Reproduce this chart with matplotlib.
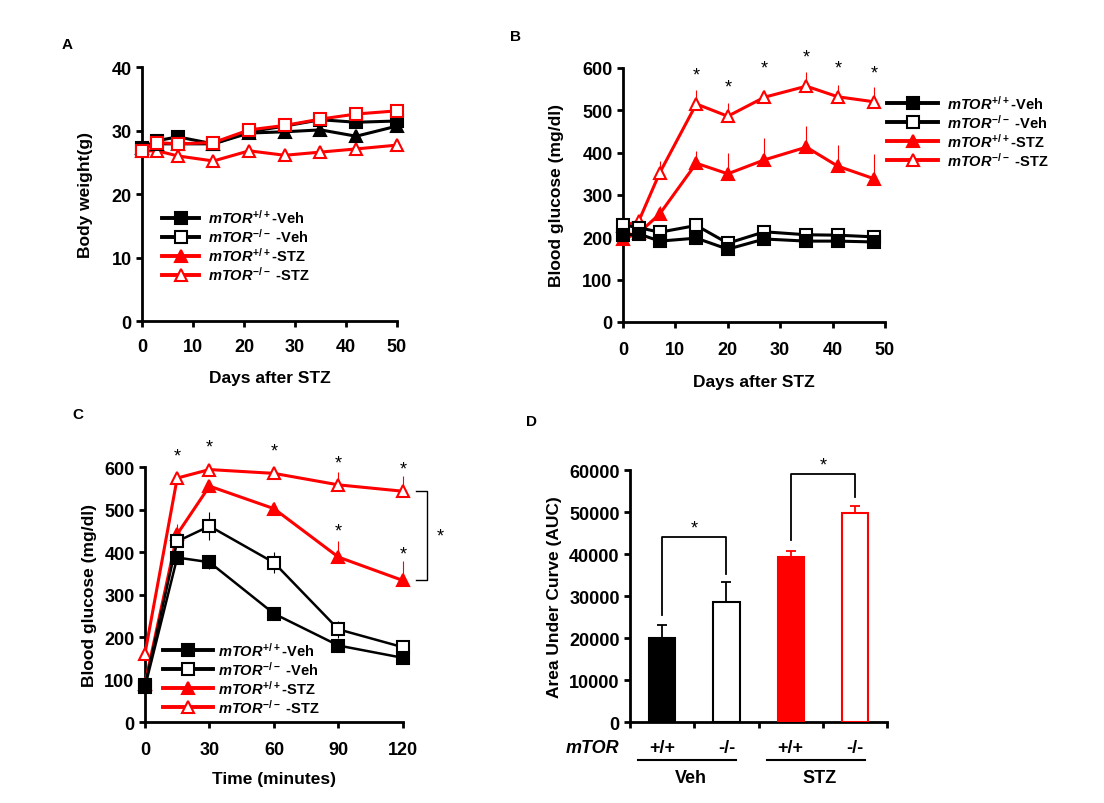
import numpy as np
import matplotlib
matplotlib.use("Agg")
import matplotlib.pyplot as plt
import matplotlib.transforms as mtransforms
from matplotlib.lines import Line2D

plt.rcParams['font.family'] = ['Liberation Sans', 'DejaVu Sans']
plt.rcParams['font.weight'] = 'bold'
plt.rcParams['axes.labelweight'] = 'bold'
plt.rcParams['mathtext.fontset'] = 'custom'
plt.rcParams['mathtext.it'] = 'Liberation Sans:italic:bold'
plt.rcParams['mathtext.rm'] = 'Liberation Sans:bold'
plt.rcParams['mathtext.bf'] = 'Liberation Sans:bold'

# ---- data ----
labels = [r"$mTOR^{+/+}$-Veh", r"$mTOR^{-/-}$ -Veh", r"$mTOR^{+/+}$-STZ", r"$mTOR^{-/-}$ -STZ"]

# A: body weight
days_a = [0, 3, 7, 14, 21, 28, 35, 42, 50]
bw_wt_veh = [27.3, 28.4, 29.0, 27.9, 29.8, 30.7, 31.7, 31.3, 31.5]
bw_ko_veh = [26.8, 28.1, 27.9, 28.1, 30.1, 30.8, 31.8, 32.6, 33.1]
bw_wt_stz = [27.2, 27.9, 27.9, 27.9, 29.6, 29.8, 30.1, 29.1, 30.7]
bw_ko_stz = [26.8, 26.8, 26.0, 25.2, 26.8, 26.1, 26.6, 27.1, 27.7]
bw_err = [0.6, 0.7, 0.6, 0.8, 0.9, 0.8, 0.9, 0.8, 1.0]

# B: fasting blood glucose over days
days_b = [0, 3, 7, 14, 20, 27, 35, 41, 48]
bg_wt_veh = [205, 208, 191, 198, 172, 196, 191, 191, 189]
bg_ko_veh = [229, 223, 212, 228, 186, 213, 206, 205, 201]
bg_wt_stz = [196, 210, 255, 375, 350, 383, 413, 368, 338]
bg_ko_stz = [227, 238, 352, 515, 486, 531, 557, 532, 520]
bg_wt_stz_err = [5, 8, 20, 30, 50, 52, 50, 50, 58]
bg_ko_stz_err = [5, 8, 29, 32, 31, 18, 33, 28, 35]
bg_veh_err = [5, 5, 5, 6, 5, 6, 5, 5, 5]
stars_b = [14, 20, 27, 35, 41, 48]

# C: glucose tolerance test
minutes = [0, 15, 30, 60, 90, 120]
gtt_wt_veh = [82, 387, 376, 255, 180, 151]
gtt_ko_veh = [86, 425, 461, 375, 218, 176]
gtt_wt_stz = [90, 442, 555, 502, 388, 333]
gtt_ko_stz = [161, 574, 594, 585, 558, 543]
gtt_wt_veh_err = [5, 8, 15, 8, 8, 6]
gtt_ko_veh_err = [5, 10, 33, 25, 20, 15]
gtt_wt_stz_err = [5, 25, 8, 15, 38, 45]
gtt_ko_stz_err = [5, 5, 5, 5, 30, 35]
stars_c_ko = [15, 30, 60, 90, 120]
stars_c_wt = [90, 120]

# D: area under curve
auc_groups = ['+/+', '-/-', '+/+', '-/-']
auc = [20100, 28700, 39200, 49800]
auc_err = [2900, 4600, 1600, 1700]
brackets = [(0, 1, 44000), (2, 3, 59000)]

fig = plt.figure(figsize=(11.04, 8.04), dpi=100)


def style_axes(ax):
    for s in ['top', 'right']:
        ax.spines[s].set_visible(False)
    for s in ['left', 'bottom']:
        ax.spines[s].set_linewidth(2)
    ax.tick_params(direction='out', length=4, width=2, labelsize=13)


def star(ax, x, y, off):
    ax.annotate('*', (x, y), xytext=(0, off), textcoords='offset points',
                ha='center', va='center', fontsize=13, fontweight='normal',
                annotation_clip=False)


def series(ax, x, y, err, color, marker, filled, lw, ms, z, both=False):
    lower = err if both else [0] * len(err)
    ax.errorbar(x, y, yerr=[lower, err], fmt='none', ecolor=color,
                elinewidth=0.8, capsize=0, zorder=z - 1, clip_on=False)
    ax.plot(x, y, color=color, lw=lw, marker=marker, ms=ms,
            mfc=color if filled else 'white', mec=color, mew=1.5,
            zorder=z, clip_on=False)


def legend_handles(lw, ms):
    spec = [('black', 's', True), ('black', 's', False),
            ('red', '^', True), ('red', '^', False)]
    return [Line2D([], [], color=c, lw=lw, marker=m, ms=ms, mec=c, mew=1.5,
                   mfc=c if f else 'white') for c, m, f in spec]


def add_legend(ax, anchor, hl, hp, ms):
    ax.legend(legend_handles(2.8, ms), labels, loc='upper left', bbox_to_anchor=anchor,
              frameon=False, borderpad=0, borderaxespad=0, handlelength=hl,
              handletextpad=hp, labelspacing=0.08, prop={'size': 10.5, 'weight': 'bold'})


# ---- A ----
ax = fig.add_axes([0.1286, 0.5995, 0.2310, 0.3159])
style_axes(ax)
series(ax, days_a, bw_ko_stz, bw_err, 'red', '^', False, 2.2, 8, 3)
series(ax, days_a, bw_wt_stz, bw_err, 'black', '^', True, 2.2, 8, 4)
series(ax, days_a, bw_wt_veh, bw_err, 'black', 's', True, 2.2, 8, 5)
series(ax, days_a, bw_ko_veh, bw_err, 'red', 's', False, 2.2, 8, 6)
ax.set_xlim(0, 50)
ax.set_ylim(0, 40)
ax.set_xticks([0, 10, 20, 30, 40, 50])
ax.set_yticks([0, 10, 20, 30, 40])
ax.tick_params(axis='x', pad=8)
ax.set_xlabel('Days after STZ', fontsize=12.5, labelpad=11)
ax.set_ylabel('Body weight(g)', fontsize=12.5, labelpad=13)
add_legend(ax, (0.08, 0.445), 2.5, 0.6, 8)
fig.text(0.056, 0.944, 'A', fontsize=11, fontweight='bold', ha='left', va='center')

# ---- B ----
ax = fig.add_axes([0.5643, 0.5983, 0.2373, 0.3159])
style_axes(ax)
series(ax, days_b, bg_wt_stz, bg_wt_stz_err, 'red', '^', True, 2.2, 8, 3)
series(ax, days_b, bg_ko_stz, bg_ko_stz_err, 'red', '^', False, 2.2, 8, 4)
series(ax, days_b, bg_ko_veh, bg_veh_err, 'black', 's', False, 2.2, 8, 5)
series(ax, days_b, bg_wt_veh, bg_veh_err, 'black', 's', True, 2.2, 8, 6)
for d in stars_b:
    star(ax, d, bg_ko_stz[days_b.index(d)], 21)
ax.set_xlim(0, 50)
ax.set_ylim(0, 600)
ax.set_xticks([0, 10, 20, 30, 40, 50])
ax.set_yticks([0, 100, 200, 300, 400, 500, 600])
ax.tick_params(axis='x', pad=10)
ax.set_xlabel('Days after STZ', fontsize=12.5, labelpad=11)
ax.set_ylabel('Blood glucose (mg/dl)', fontsize=12.5, labelpad=13)
add_legend(ax, (1.008, 0.9), 3.5, 0.6, 8)
fig.text(0.462, 0.954, 'B', fontsize=11, fontweight='bold', ha='left', va='center')

# ---- C ----
ax = fig.add_axes([0.1313, 0.1007, 0.2337, 0.3172])
style_axes(ax)
series(ax, minutes, gtt_ko_stz, gtt_ko_stz_err, 'red', '^', False, 2.2, 8, 3)
series(ax, minutes, gtt_wt_stz, gtt_wt_stz_err, 'red', '^', True, 2.2, 8, 4)
series(ax, minutes, gtt_ko_veh, gtt_ko_veh_err, 'black', 's', False, 1.8, 9, 5, both=True)
series(ax, minutes, gtt_wt_veh, gtt_wt_veh_err, 'black', 's', True, 1.8, 9, 6, both=True)
for t in stars_c_ko:
    star(ax, t, gtt_ko_stz[minutes.index(t)], 16)
for t in stars_c_wt:
    star(ax, t, gtt_wt_stz[minutes.index(t)], 19)
# bracket between the two STZ groups at 120 min
tr = mtransforms.blended_transform_factory(ax.transAxes, ax.transData)
y_hi, y_lo = gtt_ko_stz[-1], gtt_wt_stz[-1]
ax.plot([1.05, 1.093, 1.093, 1.05], [y_hi, y_hi, y_lo, y_lo], color='black', lw=1,
        transform=tr, clip_on=False)
ax.text(1.143, (y_hi + y_lo) / 2, '*', transform=tr, ha='center', va='center',
        fontsize=13, fontweight='normal')
ax.set_xlim(0, 120)
ax.set_ylim(0, 600)
ax.set_xticks([0, 30, 60, 90, 120])
ax.set_yticks([0, 100, 200, 300, 400, 500, 600])
ax.tick_params(axis='x', pad=10)
ax.set_xlabel('Time (minutes)', fontsize=12.5, labelpad=9)
ax.set_ylabel('Blood glucose (mg/dl)', fontsize=12.5, labelpad=5)
add_legend(ax, (0.07, 0.32), 3.4, 0.4, 9)
fig.text(0.066, 0.484, 'C', fontsize=11, fontweight='bold', ha='left', va='center')

# ---- D ----
ax = fig.add_axes([0.5707, 0.1007, 0.2328, 0.3134])
style_axes(ax)
pos = np.arange(len(auc)) + 0.5
face = ['black', 'white', 'red', 'white']
edge = ['black', 'black', 'red', 'red']
ax.bar(pos, auc, width=0.41, color=face, edgecolor=edge, linewidth=1.5, zorder=3)
for p, v, e, c in zip(pos, auc, auc_err, edge):
    ax.errorbar(p, v, yerr=[[0], [e]], fmt='none', ecolor=c, elinewidth=1.3,
                capsize=3.5, capthick=1.3, zorder=2)
for i, j, h in brackets:
    li = auc[i] + auc_err[i] + 2500
    lj = auc[j] + auc_err[j] + 2000
    ax.plot([pos[i], pos[i], pos[j], pos[j]], [li, h, h, lj], color='black', lw=1.3,
            clip_on=False)
    ax.text((pos[i] + pos[j]) / 2, h + 2300, '*', ha='center', va='center',
            fontsize=13, fontweight='normal')
ax.set_xlim(0, 4)
ax.set_ylim(0, 60000)
ax.set_xticks([0, 1, 2, 3, 4])
ax.set_xticklabels([])
ax.set_yticks(range(0, 60001, 10000))
ax.set_ylabel('Area Under Curve (AUC)', fontsize=12.5, labelpad=5)
trx = mtransforms.blended_transform_factory(ax.transData, ax.transAxes)
for p, g in zip(pos, auc_groups):
    ax.text(p, -0.10, g, transform=trx, ha='center', va='center', fontsize=13)
ax.text(-0.58, -0.10, 'mTOR', transform=trx, ha='center', va='center', fontsize=13,
        fontstyle='italic')
for (a, b), name in zip([(0, 1), (2, 3)], ['Veh', 'STZ']):
    ax.plot([pos[a] - 0.37, pos[b] + 0.15], [-0.152, -0.152], color='black', lw=1.5,
            transform=trx, clip_on=False)
    ax.text((pos[a] + pos[b]) / 2 - 0.05, -0.222, name, transform=trx, ha='center',
            va='center', fontsize=13)
fig.text(0.476, 0.475, 'D', fontsize=11, fontweight='bold', ha='left', va='center')

fig.savefig('out.png', dpi=100)
